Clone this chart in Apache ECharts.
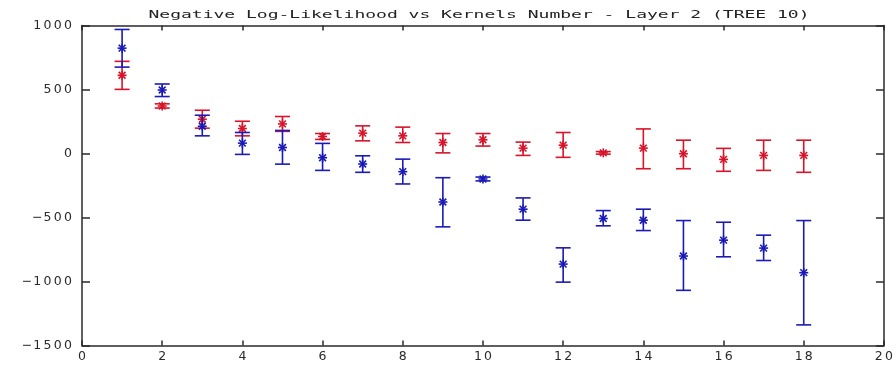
<!DOCTYPE html>
<html>
<head>
<meta charset="utf-8">
<script src="https://cdn.jsdelivr.net/npm/echarts@6/dist/echarts.min.js"></script>
<style>
  html, body { margin: 0; padding: 0; background: #fff; }
  #chart { width: 896px; height: 365px; }
</style>
</head>
<body>
<div id="chart"></div>
<script>
// Number of kernels on the x axis
const kernels = [1, 2, 3, 4, 5, 6, 7, 8, 9, 10, 11, 12, 13, 14, 15, 16, 17, 18];

// Red series: mean and error-bar bounds
const redMean = [611, 371, 268, 195, 231, 133, 159, 138, 86, 107, 42, 65, 5, 42, -2, -46, -15, -15];
const redLow  = [501, 355, 198, 138, 173, 110, 99, 86, 5, 58, -15, -30, -5, -119, -119, -139, -132, -147];
const redHigh = [720, 388, 338, 252, 289, 156, 216, 206, 156, 156, 89, 164, 15, 192, 104, 40, 104, 104];

// Blue series: mean and error-bar bounds
const blueMean = [823, 496, 213, 81, 47, -33, -82, -142, -379, -199, -435, -864, -508, -521, -801, -677, -739, -931];
const blueLow  = [675, 445, 138, -7, -83, -132, -147, -238, -573, -214, -521, -1005, -565, -602, -1069, -807, -836, -1339];
const blueHigh = [969, 543, 299, 164, 180, 79, -18, -44, -189, -184, -347, -737, -446, -435, -524, -537, -638, -524];

// Axis ticks
const xTicks = [0, 2, 4, 6, 8, 10, 12, 14, 16, 18, 20];
const yTicks = [-1500, -1000, -500, 0, 500, 1000];

const titleText = 'Negative Log-Likelihood vs Kernels Number - Layer 2 (TREE 10)';

const RED = '#d8142a';
const BLUE = '#1a1ab8';

function rows(mean, low, high) {
  return kernels.map((k, i) => [k, mean[i], low[i], high[i]]);
}

// Error bar with caps and an asterisk marker at the mean
function errorBar(color) {
  return function (params, api) {
    const x = api.value(0);
    const pm = api.coord([x, api.value(1)]);
    const pl = api.coord([x, api.value(2)]);
    const ph = api.coord([x, api.value(3)]);
    const cw = 7.5, r = 4.5, d = r * 0.75;
    const style = { stroke: color, lineWidth: 1.6, fill: null };
    const seg = (x1, y1, x2, y2) => ({ type: 'line', shape: { x1, y1, x2, y2 }, style });
    return {
      type: 'group',
      children: [
        seg(pl[0], pl[1], ph[0], ph[1]),
        seg(ph[0] - cw, ph[1], ph[0] + cw, ph[1]),
        seg(pl[0] - cw, pl[1], pl[0] + cw, pl[1]),
        seg(pm[0] - r, pm[1], pm[0] + r, pm[1]),
        seg(pm[0], pm[1] - r, pm[0], pm[1] + r),
        seg(pm[0] - d, pm[1] - d, pm[0] + d, pm[1] + d),
        seg(pm[0] - d, pm[1] + d, pm[0] + d, pm[1] - d)
      ]
    };
  };
}

// Wide, evenly spaced tick label characters
function spaced(v) {
  return String(v).replace('-', '\u2212').split('').map(c => '{c|' + c + '}').join('');
}
const labelRich = {
  c: { width: 10.2, align: 'center', fontSize: 12.5, fontFamily: 'DejaVu Sans', color: '#2a2a2a' }
};

const axisLine = { show: true, onZero: false, lineStyle: { color: '#2a2a2a', width: 1.5 } };
const tickStyle = { color: '#2a2a2a', width: 1.5 };

const chart = echarts.init(document.getElementById('chart'), null, { renderer: 'canvas' });
chart.setOption({
  backgroundColor: '#ffffff',
  animation: false,
  graphic: [{
    type: 'text',
    x: 479,
    y: 15,
    scaleX: 1.8,
    style: {
      text: titleText,
      font: '10px "DejaVu Sans Mono"',
      fill: '#222',
      align: 'center',
      verticalAlign: 'middle'
    }
  }],
  grid: { left: 82, right: 11, top: 25.5, bottom: 19.5, containLabel: false },
  xAxis: [{
    type: 'value', min: 0, max: 20, interval: 2, position: 'bottom',
    axisLine, splitLine: { show: false },
    axisTick: { show: true, inside: true, length: 5, lineStyle: tickStyle },
    axisLabel: { margin: 5, formatter: v => xTicks.includes(v) ? spaced(v) : '', rich: labelRich }
  }, {
    type: 'value', min: 0, max: 20, interval: 2, position: 'top',
    axisLine, splitLine: { show: false },
    axisTick: { show: true, inside: true, length: 5, lineStyle: tickStyle },
    axisLabel: { show: false }
  }],
  yAxis: [{
    type: 'value', min: -1500, max: 1000, interval: 500, position: 'left',
    axisLine, splitLine: { show: false },
    axisTick: { show: true, inside: true, length: 8, lineStyle: tickStyle },
    axisLabel: { margin: 9, formatter: v => yTicks.includes(v) ? spaced(v) : '', rich: labelRich }
  }, {
    type: 'value', min: -1500, max: 1000, interval: 500, position: 'right',
    axisLine, splitLine: { show: false },
    axisTick: { show: true, inside: true, length: 8, lineStyle: tickStyle },
    axisLabel: { show: false }
  }],
  series: [{
    name: 'red',
    type: 'custom',
    renderItem: errorBar(RED),
    encode: { x: 0, y: [1, 2, 3] },
    data: rows(redMean, redLow, redHigh),
    clip: false
  }, {
    name: 'blue',
    type: 'custom',
    renderItem: errorBar(BLUE),
    encode: { x: 0, y: [1, 2, 3] },
    data: rows(blueMean, blueLow, blueHigh),
    clip: false
  }]
});
</script>
</body>
</html>
